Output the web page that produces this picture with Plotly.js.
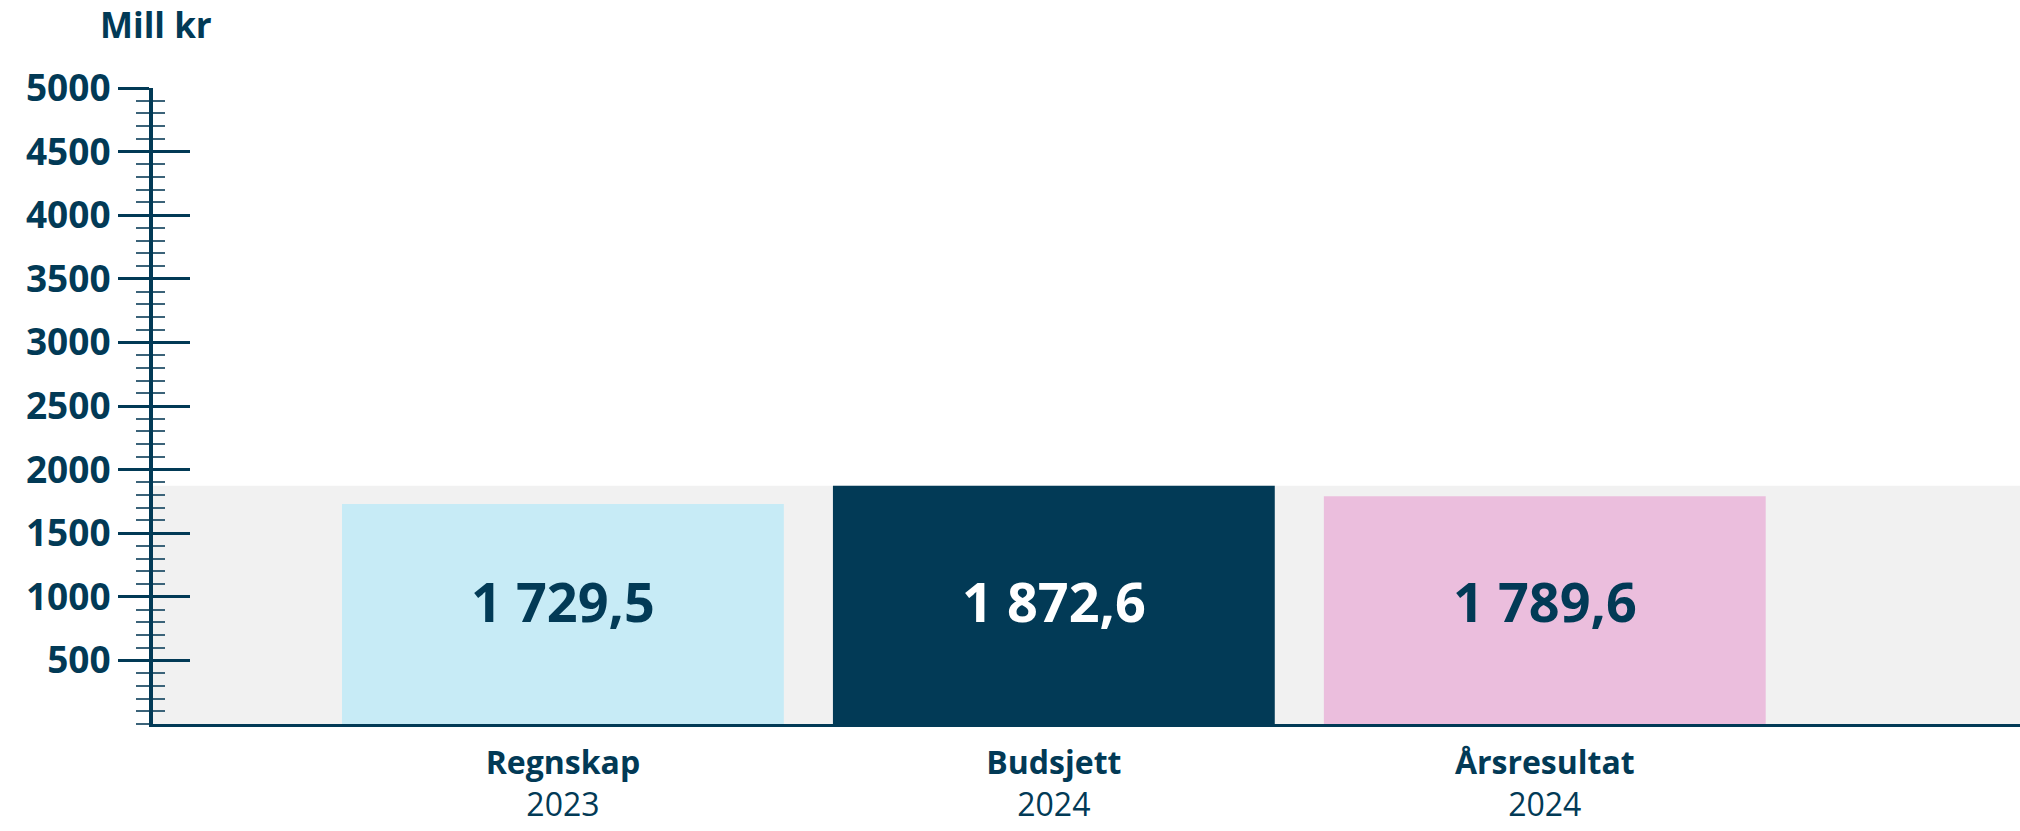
<!DOCTYPE html>
<html>
<head>
<meta charset="utf-8">
<script src="https://cdn.plot.ly/plotly-3.0.1.min.js"></script>
<style>html,body{margin:0;padding:0;background:#fff;}#chart{width:2020px;height:831px;}</style>
</head>
<body>
<div id="chart"></div>
<script>
// ---- data ----
const categoryNames = ["Regnskap", "Budsjett", "Årsresultat"];
const categoryYears = ["2023", "2024", "2024"];
const values = [1729.5, 1872.6, 1789.6];
const valueLabels = ["1 729,5", "1 872,6", "1 789,6"];
const yTickVals = [500, 1000, 1500, 2000, 2500, 3000, 3500, 4000, 4500, 5000];
const yTickText = ["500", "1000", "1500", "2000", "2500", "3000", "3500", "4000", "4500", "5000"];
const yTitle = "Mill kr";

// ---- styles ----
const NAVY = "#023a56";
const barColors = ["#c7ebf6", NAVY, "#ebbedd"];
const labelColors = [NAVY, "#ffffff", NAVY];
const FONT = "Open Sans, sans-serif";

const xIdx = categoryNames.map((_, i) => i);
const tickText = categoryNames.map((n, i) => "<b>" + n + "</b><br>" + categoryYears[i]);
const maxVal = Math.max(...values);

const traces = [
  {
    type: "bar",
    x: xIdx,
    y: values,
    marker: {color: barColors, line: {width: 0}},
    width: 0.9,
    hoverinfo: "skip",
    showlegend: false
  },
  {
    type: "scatter",
    x: xIdx,
    y: values,
    yaxis: "y2",
    mode: "markers",
    marker: {opacity: 0},
    hoverinfo: "skip",
    showlegend: false
  }
];

const annotations = categoryNames.map((_, i) => ({
  x: i, y: maxVal / 2, xref: "x", yref: "y",
  text: "<b>" + valueLabels[i] + "</b>",
  showarrow: false, xanchor: "center", yanchor: "middle",
  yshift: 4,
  font: {family: FONT, size: 54, color: labelColors[i]}
}));
annotations.push({
  x: 0, y: 1, xref: "paper", yref: "paper",
  text: "<b>" + yTitle + "</b>",
  showarrow: false, xanchor: "center", yanchor: "middle",
  xshift: 3, yshift: 64,
  font: {family: FONT, size: 35, color: NAVY}
});

const yCommon = {
  range: [0, 5000],
  tickmode: "array",
  tickvals: yTickVals,
  showgrid: false,
  zeroline: false,
  fixedrange: true
};

const layout = {
  width: 2020,
  height: 831,
  margin: {l: 153, r: 0, t: 88, b: 107, pad: 0},
  paper_bgcolor: "#ffffff",
  plot_bgcolor: "rgba(0,0,0,0)",
  showlegend: false,
  font: {family: FONT, color: NAVY},
  bargap: 0.1,
  xaxis: {
    range: [-0.835, 2.968],
    tickmode: "array",
    tickvals: xIdx,
    ticktext: tickText,
    ticks: "outside",
    ticklen: 4,
    tickcolor: "rgba(0,0,0,0)",
    showgrid: false,
    zeroline: false,
    showline: true,
    linecolor: NAVY,
    linewidth: 3,
    tickfont: {family: FONT, size: 32, color: NAVY},
    ticklabelstandoff: 5,
    fixedrange: true
  },
  yaxis: Object.assign({}, yCommon, {
    ticktext: yTickText.map(t => "<b>" + t + "</b>"),
    ticks: "outside",
    ticklen: 31,
    tickwidth: 3,
    tickcolor: NAVY,
    showline: true,
    linecolor: NAVY,
    linewidth: 4,
    tickfont: {family: FONT, size: 37, color: NAVY},
    ticklabelstandoff: 0,
    minor: {dtick: 100, tick0: 0, ticks: "outside", ticklen: 13, tickwidth: 2, tickcolor: "#3b6379"}
  }),
  yaxis2: Object.assign({}, yCommon, {
    ticktext: yTickText,
    overlaying: "y",
    anchor: "x",
    side: "left",
    ticks: "inside",
    ticklen: 37,
    tickwidth: 3,
    tickcolor: NAVY,
    showline: false,
    showticklabels: false,
    minor: {dtick: 100, tick0: 0, ticks: "inside", ticklen: 12, tickwidth: 2, tickcolor: "#3b6379"}
  }),
  shapes: [{
    type: "rect", layer: "below",
    xref: "paper", x0: 0, x1: 1,
    yref: "y", y0: 0, y1: maxVal,
    fillcolor: "#f1f1f1", line: {width: 0}
  }],
  annotations: annotations
};

Plotly.newPlot("chart", traces, layout, {displayModeBar: false, staticPlot: true});
</script>
</body>
</html>
